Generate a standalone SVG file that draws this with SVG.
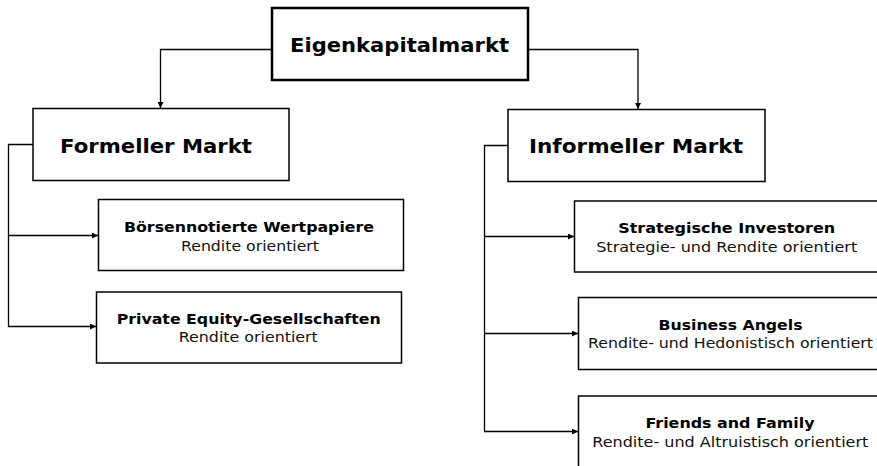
<svg xmlns="http://www.w3.org/2000/svg" width="877" height="466" viewBox="0 0 877 466">
<style>
.box{fill:#fff;stroke:#000;stroke-width:1.5}
.top{fill:#fff;stroke:#000;stroke-width:2.5}
.conn{fill:none;stroke:#000;stroke-width:1.3}
text{font-family:"DejaVu Sans",Verdana,sans-serif;fill:#000;text-anchor:middle}
.h1{font-size:20px;font-weight:bold}
.h2{font-size:19px;font-weight:bold}
.b{font-size:14px;font-weight:bold}
.r{font-size:14px;fill:#111}
</style>
<defs>
<marker id="arr" viewBox="0 0 10 10" refX="10" refY="5" markerWidth="8" markerHeight="6" markerUnits="userSpaceOnUse" orient="auto">
<path d="M0,0 L10,5 L0,10 z" fill="#000"/>
</marker>
</defs>
<rect width="877" height="466" fill="#fff"/>
<g id="connectors">
<path class="conn" d="M272,49.5 H160.5 V108" marker-end="url(#arr)"/>
<path class="conn" d="M528,49.5 H638 V109" marker-end="url(#arr)"/>
<path class="conn" d="M33,144.5 H8.5 V326.5 H96" marker-end="url(#arr)"/>
<path class="conn" d="M8.5,235.5 H98" marker-end="url(#arr)"/>
<path class="conn" d="M508,145.5 H484.5 V431.5 H578" marker-end="url(#arr)"/>
<path class="conn" d="M484.5,236.5 H574" marker-end="url(#arr)"/>
<path class="conn" d="M484.5,333.5 H578" marker-end="url(#arr)"/>
</g>
<g id="eigenkapitalmarkt">
<rect class="top" x="272" y="8" width="256" height="72"/>
<text class="h1" x="399.5" y="52" textLength="219" lengthAdjust="spacingAndGlyphs">Eigenkapitalmarkt</text>
</g>
<g id="formeller">
<rect class="box" x="33" y="108.5" width="256" height="72"/>
<text class="h2" x="156" y="153" textLength="192" lengthAdjust="spacingAndGlyphs">Formeller Markt</text>
</g>
<g id="informeller">
<rect class="box" x="508" y="109.5" width="257" height="72"/>
<text class="h2" x="636" y="153" textLength="214" lengthAdjust="spacingAndGlyphs">Informeller Markt</text>
</g>
<g id="boersen">
<rect class="box" x="98.5" y="199.5" width="305" height="71"/>
<text class="b" x="249" y="231.5" textLength="250" lengthAdjust="spacingAndGlyphs">Börsennotierte Wertpapiere</text>
<text class="r" x="250" y="251" textLength="138" lengthAdjust="spacingAndGlyphs">Rendite orientiert</text>
</g>
<g id="private">
<rect class="box" x="96.5" y="292" width="305" height="71"/>
<text class="b" x="248.7" y="323.5" textLength="264" lengthAdjust="spacingAndGlyphs">Private Equity-Gesellschaften</text>
<text class="r" x="248.3" y="342" textLength="139" lengthAdjust="spacingAndGlyphs">Rendite orientiert</text>
</g>
<g id="strategische">
<rect class="box" x="574.5" y="201" width="320" height="71"/>
<text class="b" x="726.7" y="233" textLength="217" lengthAdjust="spacingAndGlyphs">Strategische Investoren</text>
<text class="r" x="726.7" y="251.5" textLength="261" lengthAdjust="spacingAndGlyphs">Strategie- und Rendite orientiert</text>
</g>
<g id="business">
<rect class="box" x="578.5" y="297.5" width="320" height="72"/>
<text class="b" x="730.5" y="329.5" textLength="144" lengthAdjust="spacingAndGlyphs">Business Angels</text>
<text class="r" x="730.5" y="348" textLength="285" lengthAdjust="spacingAndGlyphs">Rendite- und Hedonistisch orientiert</text>
</g>
<g id="friends">
<rect class="box" x="578.5" y="396" width="320" height="80"/>
<text class="b" x="730" y="428" textLength="169" lengthAdjust="spacingAndGlyphs">Friends and Family</text>
<text class="r" x="730.3" y="446.5" textLength="276" lengthAdjust="spacingAndGlyphs">Rendite- und Altruistisch orientiert</text>
</g>
</svg>
